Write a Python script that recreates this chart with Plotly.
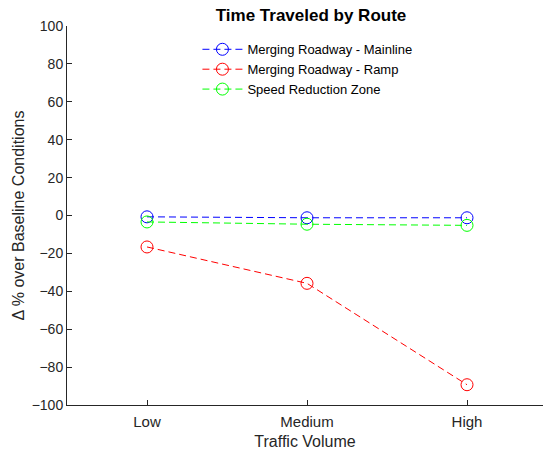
import plotly.graph_objects as go

categories = ["Low", "Medium", "High"]
x_pos = [1, 2, 3]
mainline = [-0.7, -1.2, -1.2]
ramp = [-16.6, -35.8, -89.3]
speed_zone = [-3.4, -4.6, -5.2]
series_names = ["Merging Roadway - Mainline", "Merging Roadway - Ramp", "Speed Reduction Zone"]
colors = ["#0000ff", "#ff0000", "#00ff00"]
y_ticks = list(range(-100, 101, 20))

fig = go.Figure()
for name, vals, c in zip(series_names, [mainline, ramp, speed_zone], colors):
    fig.add_trace(go.Scatter(
        x=x_pos, y=vals, name=name, mode="lines+markers",
        line=dict(color=c, width=1, dash="7px,4px"),
        marker=dict(symbol="circle-open", size=12, color=c, line=dict(width=1, color=c)),
    ))

font_family = "Liberation Sans, Arial, sans-serif"
fig.update_layout(
    width=543, height=456,
    margin=dict(l=67, r=0, t=26, b=51, autoexpand=False),
    paper_bgcolor="white", plot_bgcolor="white",
    font=dict(family=font_family, size=14, color="#262626"),
    title=dict(text="<b>Time Traveled by Route</b>", x=(311/543), xanchor="center",
               y=1 - 15.5/456, yanchor="middle", font=dict(size=17, color="black"), automargin=False),
    showlegend=True,
    legend=dict(x=0.274, y=0.978, xanchor="left", yanchor="top", bgcolor="rgba(0,0,0,0)",
                font=dict(size=13, color="black"), itemwidth=40, tracegroupgap=0),
    xaxis=dict(range=[0.5, 3.475], tickvals=x_pos, ticktext=categories, automargin=False,
               showgrid=False, zeroline=False, showline=True, linecolor="#262626", linewidth=1,
               ticks="inside", ticklen=5, tickcolor="#262626", tickfont=dict(size=15),
               ticklabelstandoff=3,
               title=dict(text="Traffic Volume", font=dict(size=16), standoff=6)),
    yaxis=dict(range=[-100, 100], tickvals=y_ticks, automargin=False,
               showgrid=False, zeroline=False, showline=True, linecolor="#262626", linewidth=1,
               ticks="inside", ticklen=5, tickcolor="#262626", tickfont=dict(size=14),
               title=dict(text="Δ % over Baseline Conditions", font=dict(size=16), standoff=3)),
)

fig.write_html("out.html", config={"displayModeBar": False},
               post_script="document.body.style.margin='0';document.body.style.overflow='hidden';")
